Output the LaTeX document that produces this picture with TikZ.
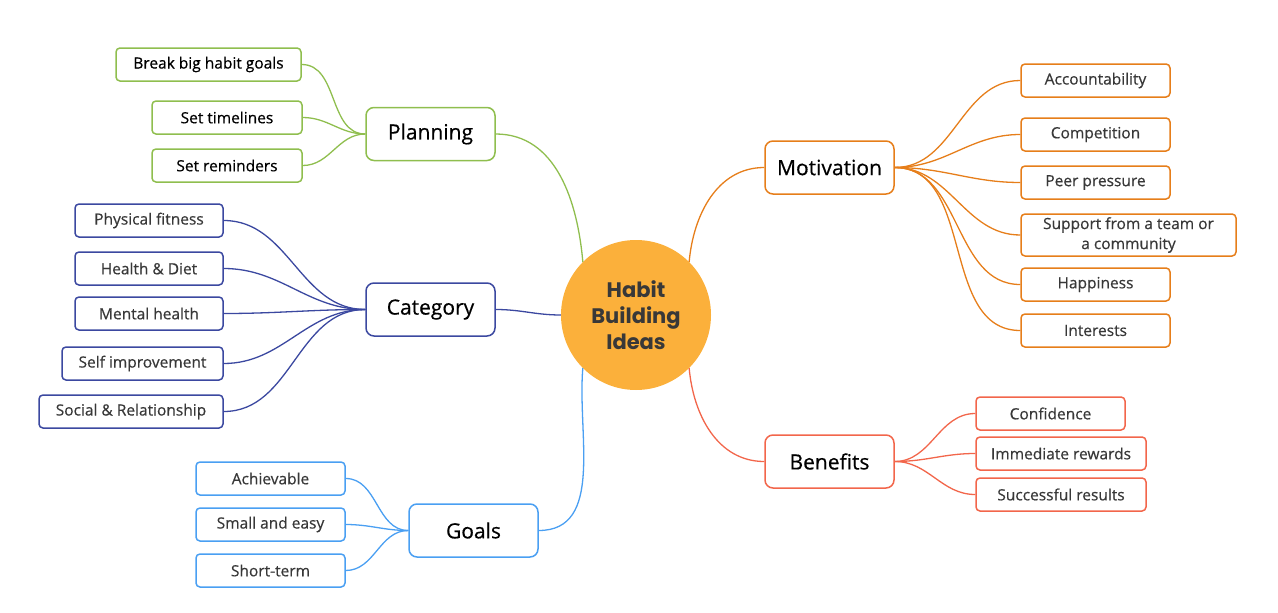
\documentclass[tikz,border=0pt]{standalone}
\usepackage{fontspec}
\setmainfont{Open Sans}[FakeBold=0.5]
\newfontfamily\hubfont{Poppins}

\definecolor{plangreen}{HTML}{8FBE4E}
\definecolor{catblue}{HTML}{3B48A0}
\definecolor{goalblue}{HTML}{4A9FF2}
\definecolor{motorange}{HTML}{E67E1A}
\definecolor{benred}{HTML}{F2664B}
\definecolor{hubfill}{HTML}{FBB03B}
\definecolor{textgray}{HTML}{383838}

\tikzset{
  leaf/.style={draw=#1, line width=1.5pt, rounded corners=4pt, minimum height=33pt,
    inner sep=0pt, text=textgray, font=\fontsize{15.5}{17}\selectfont},
  topic/.style={draw=#1, line width=1.5pt, rounded corners=8pt, minimum width=129pt,
    minimum height=53pt, font=\fontsize{21}{24}\selectfont},
  link/.style={draw=#1, line width=1.3pt},
}

\begin{document}
\begin{tikzpicture}[x=1pt, y=-1pt]
\useasboundingbox (0,0) rectangle (1278,613);

\node[circle, fill=hubfill, minimum size=150pt, inner sep=0pt, align=center, text=textgray,
  font=\hubfont\bfseries\fontsize{21}{26}\selectfont] (hub) at (636,315) {Habit\\Building\\Ideas};

% topics
\node[topic=plangreen] (plan) at (430.5,134) {Planning};
\node[topic=catblue] (cat) at (430.5,309.5) {Category};
\node[topic=goalblue] (goal) at (473.5,530.5) {Goals};
\node[topic=motorange] (mot) at (829.5,167.5) {Motivation};
\node[topic=benred] (ben) at (829.5,461.5) {Benefits};

% planning
\node[leaf=plangreen, minimum width=185pt, text=black] (brk) at (208.5,64.5) {Break big habit goals};
\node[leaf=plangreen, minimum width=150pt, text=black] (tml) at (227,117.5) {Set timelines};
\node[leaf=plangreen, minimum width=150pt, text=black] (rem) at (227,165.5) {Set reminders};

% category
\node[leaf=catblue, minimum width=148pt] (fit) at (149,220.5) {Physical fitness};
\node[leaf=catblue, minimum width=148pt] (diet) at (149,268.5) {Health \& Diet};
\node[leaf=catblue, minimum width=148pt] (ment) at (149,313.5) {Mental health};
\node[leaf=catblue, minimum width=161pt] (self) at (142.5,363.5) {Self improvement};
\node[leaf=catblue, minimum width=184pt] (soc) at (131,411.5) {Social \& Relationship};

% goals
\node[leaf=goalblue, minimum width=149pt] (ach) at (270.5,478.5) {Achievable};
\node[leaf=goalblue, minimum width=149pt] (easy) at (270.5,524.5) {Small and easy};
\node[leaf=goalblue, minimum width=149pt] (shrt) at (270.5,570.5) {Short-term};

% motivation
\node[leaf=motorange, minimum width=149pt] (acc) at (1095.5,80.5) {Accountability};
\node[leaf=motorange, minimum width=149pt] (comp) at (1095.5,134.5) {Competition};
\node[leaf=motorange, minimum width=149pt] (peer) at (1095.5,182.5) {Peer pressure};
\node[leaf=motorange, minimum width=215pt, minimum height=42pt, align=center,
  font=\fontsize{15.5}{20}\selectfont] (team) at (1128.5,235) {Support from a team or\\a community};
\node[leaf=motorange, minimum width=149pt] (hap) at (1095.5,284.5) {Happiness};
\node[leaf=motorange, minimum width=149pt] (intr) at (1095.5,330.5) {Interests};

% benefits
\node[leaf=benred, minimum width=149pt] (conf) at (1050.5,413.5) {Confidence};
\node[leaf=benred, minimum width=170pt] (imm) at (1061,453.5) {Immediate rewards};
\node[leaf=benred, minimum width=170pt] (succ) at (1061,494.5) {Successful results};

% links to the hub
\draw[link=plangreen] (plan.east) to[out=0, in=95] (hub.135);
\draw[link=catblue] (cat.east) to[out=0, in=180] (hub.west);
\draw[link=goalblue] (goal.east) to[out=0, in=-95] (hub.225);
\draw[link=motorange] (hub.45) to[out=85, in=180] (mot.west);
\draw[link=benred] (hub.-45) to[out=-85, in=180] (ben.west);

% links to the leaves
\foreach \n in {brk,tml,rem}
  \draw[link=plangreen] (\n.east) to[out=0, in=180] (plan.west);
\foreach \n in {fit,diet,ment,self,soc}
  \draw[link=catblue] (\n.east) to[out=0, in=180] (cat.west);
\foreach \n in {ach,easy,shrt}
  \draw[link=goalblue] (\n.east) to[out=0, in=180] (goal.west);
\foreach \n in {acc,comp,peer,team,hap,intr}
  \draw[link=motorange] (mot.east) to[out=0, in=180] (\n.west);
\foreach \n in {conf,imm,succ}
  \draw[link=benred] (ben.east) to[out=0, in=180] (\n.west);
\end{tikzpicture}
\end{document}
